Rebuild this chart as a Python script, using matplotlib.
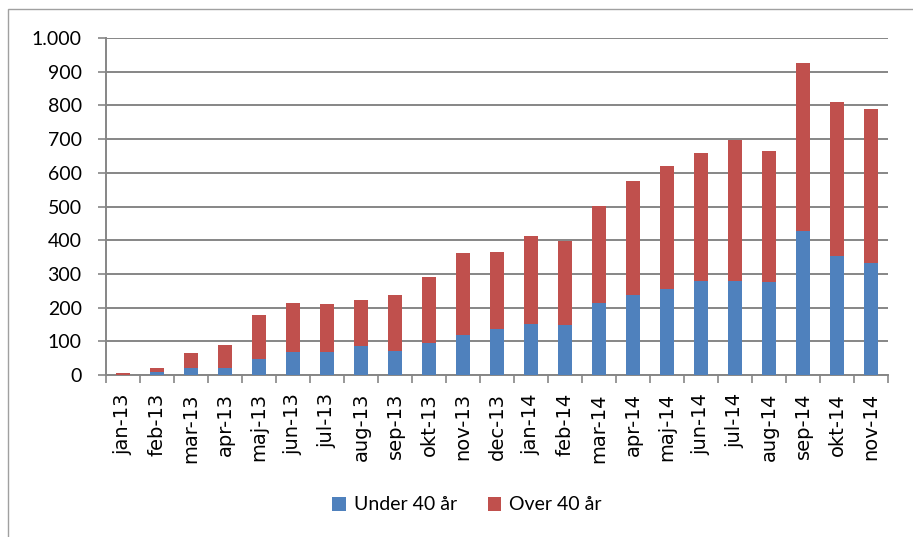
import matplotlib.pyplot as plt
from matplotlib.patches import Rectangle
import numpy as np

maaneder = ['jan-13', 'feb-13', 'mar-13', 'apr-13', 'maj-13', 'jun-13', 'jul-13',
            'aug-13', 'sep-13', 'okt-13', 'nov-13', 'dec-13', 'jan-14', 'feb-14',
            'mar-14', 'apr-14', 'maj-14', 'jun-14', 'jul-14', 'aug-14', 'sep-14',
            'okt-14', 'nov-14']
under_40 = [1, 9, 20, 20, 47, 69, 69, 85, 70, 96, 118, 136, 151, 149,
            214, 236, 254, 280, 279, 275, 426, 354, 331]
over_40 = [6, 12, 46, 70, 132, 144, 143, 139, 167, 196, 243, 228, 260, 249,
           288, 341, 367, 380, 417, 389, 500, 457, 459]
y_ticks = [0, 100, 200, 300, 400, 500, 600, 700, 800, 900, 1000]
y_labels = ['0', '100', '200', '300', '400', '500', '600', '700', '800', '900', '1.000']

blaa = '#4F81BD'
roed = '#C0504D'
graa = '#868686'

fig = plt.figure(figsize=(9.13, 5.37), dpi=100)

# ramme rundt om diagrammet
fig.patches.append(Rectangle((8 / 913, -0.05), 1.0, 1 - 9 / 537 + 0.05,
                             transform=fig.transFigure, fill=False,
                             edgecolor='#A0A0A0', linewidth=1.0))

ax = fig.add_axes([106 / 913, 1 - 375 / 537, (888 - 106) / 913, (375 - 38) / 537])

x = np.arange(len(maaneder))
ax.bar(x, under_40, width=0.4, color=blaa, label='Under 40 år', zorder=3)
ax.bar(x, over_40, width=0.4, bottom=under_40, color=roed, label='Over 40 år', zorder=3)

ax.set_xlim(-0.5, len(maaneder) - 0.5)
ax.set_ylim(0, 1000)
ax.set_yticks(y_ticks)
ax.set_yticklabels(y_labels, fontfamily='Lato', fontsize=14)
ax.yaxis.grid(True, color=graa, linewidth=1.4, zorder=0)
ax.tick_params(axis='y', length=5.5, width=1.2, color=graa, pad=12)

# kategori-etiketter, streger mellem kategorierne
ax.set_xticks(x)
ax.set_xticklabels(maaneder, rotation=90, fontfamily='DejaVu Sans', fontsize=14)
ax.tick_params(axis='x', length=0, pad=13)
ax.set_xticks(np.arange(len(maaneder) + 1) - 0.5, minor=True)
ax.tick_params(axis='x', which='minor', length=6, width=1.2, color=graa)

for side in ['top', 'right']:
    ax.spines[side].set_visible(False)
for side in ['left', 'bottom']:
    ax.spines[side].set_color(graa)
    ax.spines[side].set_linewidth(1.4)

fig.legend(loc='center', bbox_to_anchor=(467 / 913, 1 - 505 / 537), ncol=2,
           frameon=False, prop={'family': 'Lato', 'size': 14},
           handlelength=0.7, handleheight=0.7, handletextpad=0.4, columnspacing=1.6)

plt.savefig('out.png', dpi=100)
